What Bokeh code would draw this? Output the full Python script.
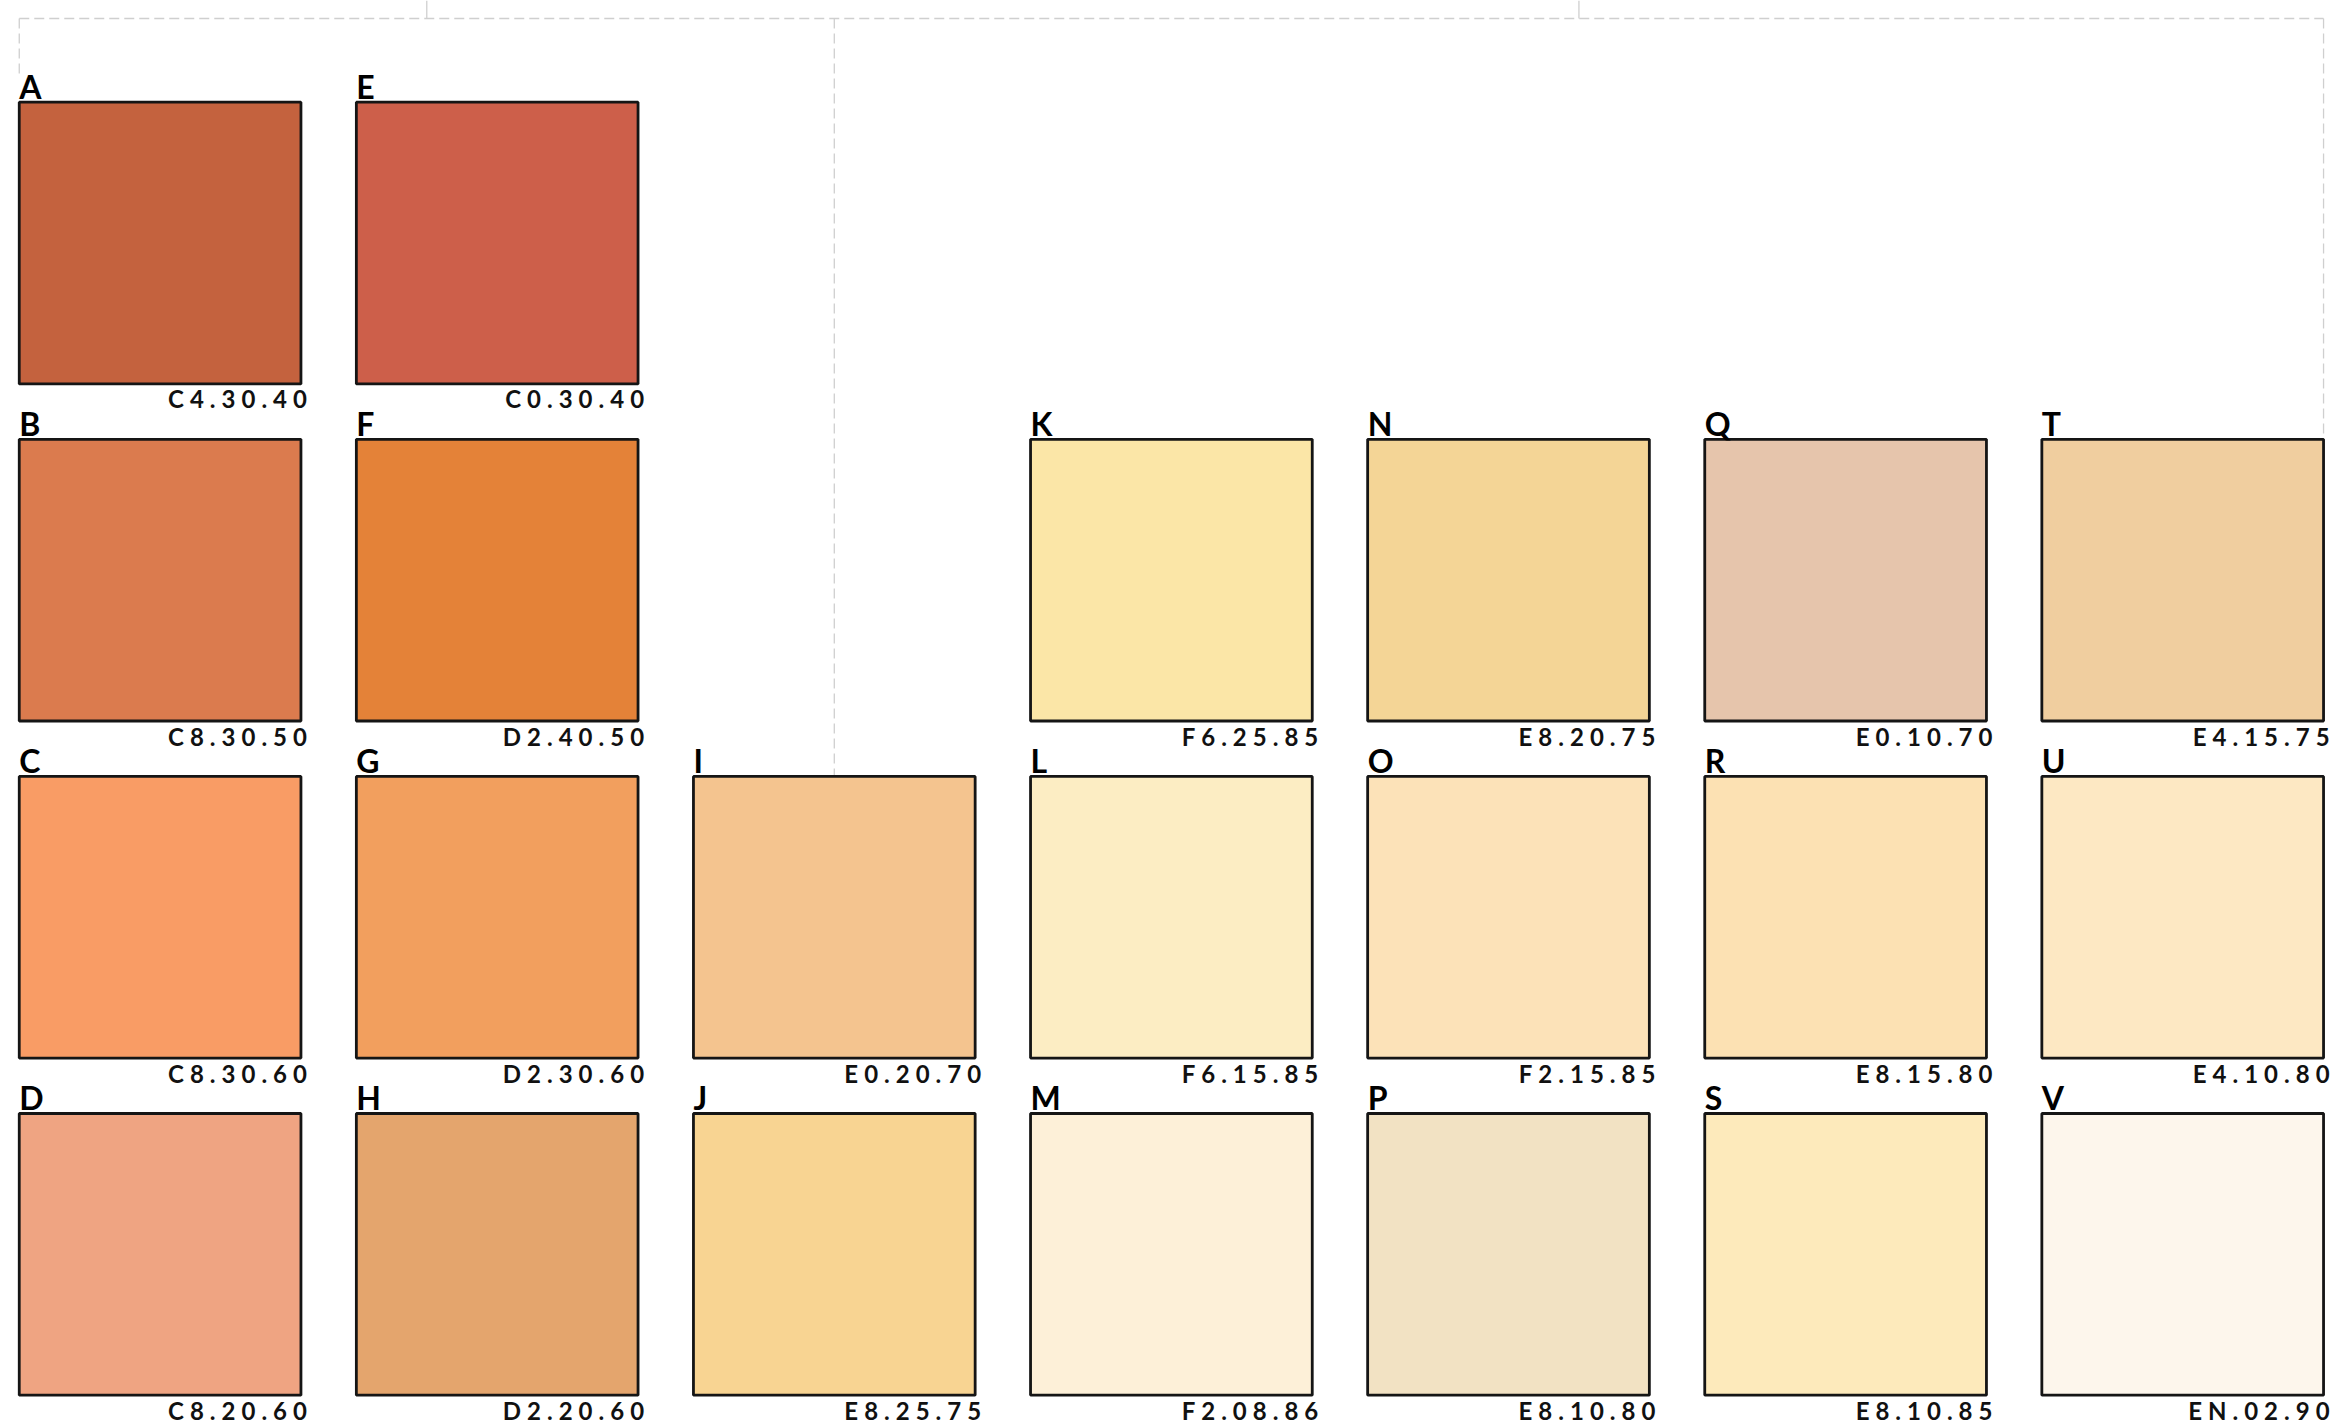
from bokeh.plotting import figure
from bokeh.models import Range1d, ColumnDataSource
from bokeh.embed import file_html
from bokeh.resources import INLINE
from bokeh.core.properties import value

# ---- data ----
letters = ["A", "E",
           "B", "F", "K", "N", "Q", "T",
           "C", "G", "I", "L", "O", "R", "U",
           "D", "H", "J", "M", "P", "S", "V"]
codes = ["C4.30.40", "C0.30.40",
         "C8.30.50", "D2.40.50", "F6.25.85", "E8.20.75", "E0.10.70", "E4.15.75",
         "C8.30.60", "D2.30.60", "E0.20.70", "F6.15.85", "F2.15.85", "E8.15.80", "E4.10.80",
         "C8.20.60", "D2.20.60", "E8.25.75", "F2.08.86", "E8.10.80", "E8.10.85", "EN.02.90"]
cols = [0, 1,
        0, 1, 3, 4, 5, 6,
        0, 1, 2, 3, 4, 5, 6,
        0, 1, 2, 3, 4, 5, 6]
rows = [0, 0,
        1, 1, 1, 1, 1, 1,
        2, 2, 2, 2, 2, 2, 2,
        3, 3, 3, 3, 3, 3, 3]
colors = ["#C4623E", "#CD5F4A",
          "#DB7B4E", "#E48238", "#FBE6A7", "#F4D596", "#E6C5AC", "#F0CE9F",
          "#F99C65", "#F29F5E", "#F4C48F", "#FCEDC3", "#FCE2B8", "#FCE1B3", "#FDE8C3",
          "#EFA482", "#E4A56D", "#F8D492", "#FDF0D8", "#F2E2C3", "#FDEABB", "#FDF6EC"]

# ---- layout ----
W, H = 2332, 1420
X0, Y0 = 18.75, 101.7
PITCH, SIZE = 337.1, 281.7
SPACING = 6  # letter spacing of the code labels, px

left = [X0 + c * PITCH for c in cols]
right = [l + SIZE for l in left]
top = [Y0 + r * PITCH for r in rows]
bottom = [t + SIZE for t in top]

src = ColumnDataSource(dict(left=left, right=right, top=top, bottom=bottom,
                            color=colors, letter=letters, code=codes,
                            lx=left, ly=[t - 16 for t in top],
                            cx=[r + 6 - 7 * SPACING for r in right],
                            cy=[b + 15 for b in bottom]))

p = figure(width=W, height=H, x_range=Range1d(0, W), y_range=Range1d(H, 0),
           output_backend="svg", toolbar_location=None, min_border=0)
p.axis.visible = False
p.grid.visible = False
p.outline_line_color = None
p.background_fill_color = "white"
p.border_fill_color = "white"
p.styles = {"letter-spacing": f"{SPACING}px"}

# bracket-like dashed guide lines derived from the grid
lx_ = X0
rx_ = X0 + 6 * PITCH + SIZE
mx_ = X0 + 2 * PITCH + SIZE / 2
ty = 18
p.segment(x0=[lx_, lx_, mx_, rx_], y0=[ty, ty, ty, ty],
          x1=[rx_, lx_, mx_, rx_], y1=[ty, Y0 - 25, Y0 + 2 * PITCH, Y0 + PITCH],
          line_color="#cfcfcf", line_width=1.3, line_dash="10 5")
p.segment(x0=[(lx_ + mx_) / 2, (mx_ + rx_) / 2], y0=[0, 0],
          x1=[(lx_ + mx_) / 2, (mx_ + rx_) / 2], y1=[ty, ty],
          line_color="#cfcfcf", line_width=1.3)

p.quad(left="left", right="right", top="top", bottom="bottom", source=src,
       fill_color="color", line_color="#151515", line_width=2.8)

p.text(x="lx", y="ly", text="letter", source=src, text_font=value("Lato"),
       text_font_style="bold", text_font_size="32px", text_color="black",
       text_align="left", text_baseline="alphabetic")
p.text(x="cx", y="cy", text="code", source=src, text_font=value("Lato"),
       text_font_style="bold", text_font_size="24px", text_color="#111111",
       text_align="right", text_baseline="alphabetic")

open("out.html", "w").write(file_html(p, INLINE))
